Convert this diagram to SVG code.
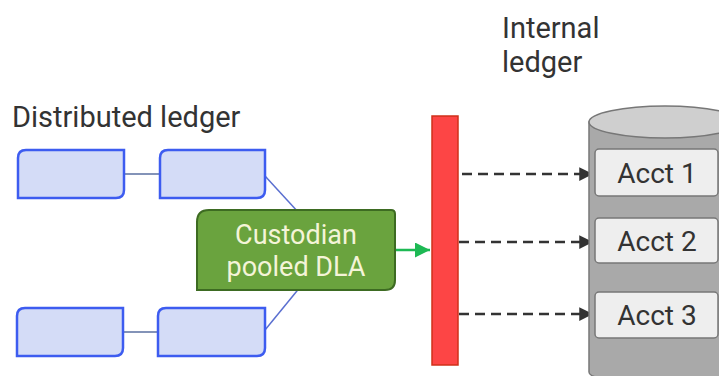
<svg xmlns="http://www.w3.org/2000/svg" width="719" height="376" viewBox="0 0 719 376">
<defs>
<style>
.lbl{font-family:Roboto,"Liberation Sans",sans-serif;font-size:29px;fill:#333}
.blk{fill:#d4dcf7;stroke:#3d5cf0;stroke-width:2.5}
.acct{fill:#eeeeee;stroke:#777;stroke-width:1.5}
.acctt{font-family:Roboto,"Liberation Sans",sans-serif;font-size:28px;fill:#333;text-anchor:middle}
.dash{stroke:#333;stroke-width:2.5;stroke-dasharray:10 6;fill:none}
</style>
<marker id="ah" viewBox="0 0 10 10" refX="10" refY="5" markerWidth="6" markerHeight="5.5" orient="auto"><path d="M0,0 L10,5 L0,10 z" fill="#333"/></marker>
<marker id="ag" viewBox="0 0 10 10" refX="10" refY="5" markerWidth="6" markerHeight="6" orient="auto"><path d="M0,0 L10,5 L0,10 z" fill="#1db954"/></marker>
</defs>
<rect width="719" height="376" fill="#fff"/>
<text class="lbl" x="12" y="127">Distributed ledger</text>
<text class="lbl" x="502" y="38">Internal</text>
<text class="lbl" x="502" y="72">ledger</text>
<g id="connectors">
<line x1="124" y1="174" x2="160" y2="174" stroke="#5a6fa0" stroke-width="1.5"/>
<line x1="123" y1="332" x2="158" y2="332" stroke="#5a6fa0" stroke-width="1.5"/>
<line x1="265" y1="176" x2="310" y2="225" stroke="#5a6fd0" stroke-width="1.5"/>
<line x1="265" y1="330" x2="310" y2="275" stroke="#5a6fd0" stroke-width="1.5"/>
<line x1="396" y1="250" x2="430" y2="250" stroke="#1db954" stroke-width="2.5" marker-end="url(#ag)"/>
<line class="dash" x1="462" y1="174" x2="593" y2="174" marker-end="url(#ah)"/>
<line class="dash" x1="459" y1="242" x2="593" y2="242" marker-end="url(#ah)"/>
<line class="dash" x1="459" y1="314" x2="593" y2="314" marker-end="url(#ah)"/>
</g>
<g id="block1"><path class="blk" d="M26,150 H124 V190 Q124,198 116,198 H18 V158 Q18,150 26,150 Z"/></g>
<g id="block2"><path class="blk" d="M168,150 H265 V190 Q265,198 257,198 H160 V158 Q160,150 168,150 Z"/></g>
<g id="block3"><path class="blk" d="M25,308 H123 V348 Q123,356 115,356 H17 V316 Q17,308 25,308 Z"/></g>
<g id="block4"><path class="blk" d="M166,308 H265 V348 Q265,356 257,356 H158 V316 Q158,308 166,308 Z"/></g>
<g id="custodian">
<path d="M209,210 H391 Q395,210 395,214 V280 Q395,290 385,290 H197 V222 Q197,210 209,210 Z" fill="#6aa33e" stroke="#3d6b22" stroke-width="2"/>
<text x="296" y="244" text-anchor="middle" font-family="Roboto,'Liberation Sans',sans-serif" font-size="27" fill="#f4f4d8">Custodian</text>
<text x="296" y="276" text-anchor="middle" font-family="Roboto,'Liberation Sans',sans-serif" font-size="27" fill="#f4f4d8">pooled DLA</text>
</g>
<g id="bar"><rect x="432" y="116" width="26" height="249" fill="#fd4545" stroke="#d0301a" stroke-width="1.5"/></g>
<g id="internal-ledger">
<path d="M589,122 V372 Q589,376 600,378 H740 V122 Z" fill="#a9a9a9" stroke="#777" stroke-width="1.5"/>
<ellipse cx="665" cy="122" rx="76" ry="16" fill="#cfcfcf" stroke="#777" stroke-width="1.5"/>
<g id="acct1"><rect class="acct" x="595" y="149" width="123" height="47" rx="4"/><text class="acctt" x="657" y="183">Acct 1</text></g>
<g id="acct2"><rect class="acct" x="595" y="218" width="123" height="45" rx="4"/><text class="acctt" x="657" y="251">Acct 2</text></g>
<g id="acct3"><rect class="acct" x="595" y="292" width="123" height="46" rx="4"/><text class="acctt" x="657" y="325">Acct 3</text></g>
</g>
</svg>
